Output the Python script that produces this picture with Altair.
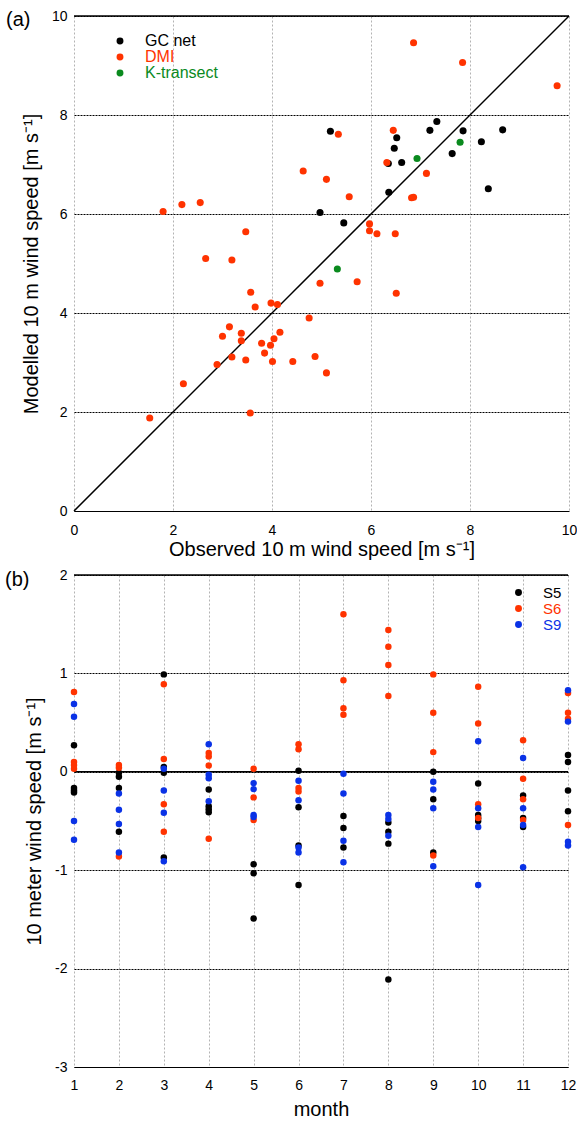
import altair as alt
import pandas as pd

FONT = "Liberation Sans"
BLACK, RED, GREEN, BLUE = "#000000", "#ff3300", "#0a8a1e", "#0a32e6"

# ---------------- panel (a) data ----------------
gc_obs = [5.18, 6.52, 6.47, 6.35, 6.62, 7.19, 7.33, 7.86, 7.64, 8.23, 8.66, 8.37, 6.36, 4.97, 5.45]
gc_mod = [7.67, 7.54, 7.33, 7.02, 7.04, 7.69, 7.87, 7.68, 7.22, 7.46, 7.70, 6.51, 6.44, 6.03, 5.82]

dmi_obs = [6.86, 7.85, 9.76, 5.34, 6.45, 6.32, 7.12, 5.10, 5.56, 6.82, 6.86, 5.97, 5.97, 6.12, 6.49,
           4.63, 1.80, 2.18, 2.55, 3.47, 2.66, 3.19, 3.57, 3.66, 3.98, 4.11, 4.75, 4.97, 3.14, 3.00,
           3.38, 3.38, 4.16, 4.04, 3.79, 3.97, 3.85, 3.19, 3.47, 4.01, 4.42, 4.87, 2.89, 2.21, 1.53,
           3.56, 5.72, 6.51, 5.10]
dmi_mod = [9.46, 9.06, 8.59, 7.61, 7.69, 7.04, 6.82, 6.70, 6.35, 6.33, 6.34, 5.80, 5.66, 5.60, 5.60,
           6.87, 6.05, 6.19, 6.23, 5.64, 5.10, 5.07, 4.42, 4.12, 4.20, 4.17, 3.90, 4.60, 3.72, 3.53,
           3.59, 3.44, 3.61, 3.48, 3.39, 3.35, 3.19, 3.11, 3.05, 3.02, 3.02, 3.12, 2.96, 2.57, 1.88,
           1.98, 4.63, 4.40, 2.79]

kt_obs = [6.93, 7.80, 5.32]
kt_mod = [7.12, 7.45, 4.89]

sources_a = ["GC net", "DMI", "K-transect"]
axis_ticks_a = [0, 2, 4, 6, 8, 10]

# ---------------- panel (b) data (bias per month) ----------------
months = list(range(1, 13))
s5_bias = [
    [0.27, -0.165, -0.19, -0.21],
    [-0.01, -0.05, -0.165, -0.61],
    [0.99, 0.05, -0.01, -0.87],
    [-0.18, -0.35, -0.38, -0.41],
    [-0.94, -1.03, -1.49],
    [0.01, -0.36, -0.75, -1.15],
    [-0.45, -0.57, -0.77],
    [-0.515, -0.61, -0.73, -2.11],
    [0.0, -0.28, -0.82],
    [-0.12, -0.44, -0.47, -0.50],
    [-0.24, -0.47, -0.56],
    [0.17, 0.10, -0.19, -0.40],
]
s6_bias = [
    [0.81, 0.10, 0.07, 0.03],
    [0.07, 0.04, -0.86],
    [0.89, 0.13, -0.33, -0.61],
    [0.19, 0.155, 0.064, -0.68],
    [0.03, -0.26, -0.49],
    [0.28, 0.23, -0.165, -0.20],
    [1.60, 0.93, 0.645, 0.58],
    [1.44, 1.27, 1.085, 0.77],
    [0.99, 0.60, 0.20, -0.85],
    [0.865, 0.49, -0.33, -0.47],
    [0.32, -0.07, -0.28, -0.49],
    [0.80, 0.60, 0.54, -0.54],
]
s9_bias = [
    [0.69, 0.56, -0.50, -0.69],
    [-0.22, -0.385, -0.53, -0.82],
    [0.03, -0.19, -0.415, -0.91],
    [0.28, -0.03, -0.065, -0.30],
    [-0.115, -0.176, -0.44, -0.46],
    [-0.09, -0.29, -0.77, -0.82],
    [-0.02, -0.22, -0.70, -0.92],
    [-0.44, -0.48, -0.65],
    [-0.10, -0.18, -0.37, -0.96],
    [0.31, -0.37, -0.56, -1.15],
    [0.14, -0.37, -0.54, -0.97],
    [0.83, 0.51, -0.71, -0.75],
]
stations_b = ["S5", "S6", "S9"]
axis_ticks_b = [-3, -2, -1, 0, 1, 2]

# ---------------- build tables ----------------
rows_a = []
for name, xs, ys in [("GC net", gc_obs, gc_mod), ("DMI", dmi_obs, dmi_mod), ("K-transect", kt_obs, kt_mod)]:
    for xv, yv in zip(xs, ys):
        rows_a.append({"src": name, "obs": xv, "mod": yv})
dfa = pd.DataFrame(rows_a)

rows_b = []
for name, series in [("S5", s5_bias), ("S6", s6_bias), ("S9", s9_bias)]:
    for m, vals in zip(months, series):
        for v in vals:
            rows_b.append({"st": name, "month": m, "bias": v})
dfb = pd.DataFrame(rows_b)

def legend(x, y, size, colexpr):
    return alt.Legend(
        title=None, orient="none", legendX=x, legendY=y, padding=0,
        labelFontSize=size, labelFont=FONT, labelOffset=17, rowPadding=0,
        symbolSize=48, symbolType="circle", symbolStrokeWidth=0,
        labelColor={"expr": colexpr},
    )

def axis(values, title, grid_color, dash, label_pad, title_pad, vertical):
    kw = dict(values=values, title=title, labelExpr="toString(datum.value)",
              grid=True, gridColor=grid_color, labelFlush=False,
              gridDash=dash, gridWidth=0.8 if not vertical else 1, ticks=False,
              labelPadding=label_pad, titlePadding=title_pad,
              labelFont=FONT, titleFont=FONT, labelFontSize=14, titleFontSize=20,
              titleFontWeight="normal", labelColor="black", titleColor="black")
    if vertical:
        kw["domain"] = False
    else:
        kw["domainColor"] = "black"
        kw["domainWidth"] = 1.2
    return alt.Axis(**kw)

# ---------------- panel (a) ----------------
xa = alt.X("obs:Q", scale=alt.Scale(domain=[0, 10], nice=False),
           axis=axis(axis_ticks_a, "Observed 10 m wind speed [m s\u207b\u00b9]", "#a0a0a0", [2, 2], 12, 2, False))
ya = alt.Y("mod:Q", scale=alt.Scale(domain=[0, 10], nice=False),
           axis=axis(axis_ticks_a, "Modelled 10 m wind speed [m s\u207b\u00b9]", "black", [2, 1], 7, 10, True))

pts_a = alt.Chart(dfa).mark_circle(size=50, opacity=1).encode(
    x=xa, y=ya,
    color=alt.Color("src:N", sort=sources_a,
                    scale=alt.Scale(domain=sources_a, range=[BLACK, RED, GREEN]),
                    legend=legend(38, 17, 16,
                                  "datum.label == 'DMI' ? '#ff3300' : (datum.label == 'K-transect' ? '#0a8a1e' : '#000000')")),
)
diag = alt.Chart(pd.DataFrame({"obs": [0, 10], "mod": [0, 10]})).mark_line(
    color="black", strokeWidth=1.5).encode(x="obs:Q", y="mod:Q")
top_a = alt.Chart(pd.DataFrame({"mod": [10]})).mark_rule(color="black", strokeWidth=1.5).encode(y="mod:Q")
lab_a = alt.Chart(pd.DataFrame({"t": ["(a)"]})).mark_text(
    align="left", baseline="middle", fontSize=20, font=FONT, color="black").encode(
    text="t:N", x=alt.value(-68), y=alt.value(4))

panel_a = alt.layer(top_a, diag, pts_a, lab_a).properties(width=495, height=495)

# ---------------- panel (b) ----------------
xb = alt.X("month:Q", scale=alt.Scale(domain=[1, 12], nice=False),
           axis=axis(months, "month", "#a0a0a0", [2, 2], 11, 7, False))
yb = alt.Y("bias:Q", scale=alt.Scale(domain=[-3, 2], nice=False),
           axis=axis(axis_ticks_b, "10 meter wind speed [m s\u207b\u00b9]", "black", [2, 1], 7, 10, True))

pts_b = alt.Chart(dfb).mark_circle(size=42, opacity=1).encode(
    x=xb, y=yb,
    color=alt.Color("st:N", sort=stations_b,
                    scale=alt.Scale(domain=stations_b, range=[BLACK, RED, BLUE]),
                    legend=legend(437, 10, 15,
                                  "datum.label == 'S6' ? '#ff3300' : (datum.label == 'S9' ? '#0a32e6' : '#000000')")),
)
rules_b = alt.Chart(pd.DataFrame({"bias": [2, 0]})).mark_rule(color="black", strokeWidth=1.5).encode(y="bias:Q")
lab_b = alt.Chart(pd.DataFrame({"t": ["(b)"]})).mark_text(
    align="left", baseline="middle", fontSize=20, font=FONT, color="black").encode(
    text="t:N", x=alt.value(-69), y=alt.value(5))

panel_b = alt.layer(rules_b, pts_b, lab_b).properties(width=494, height=492)

chart = alt.vconcat(panel_a, panel_b, spacing=9).resolve_scale(
    color="independent", x="independent", y="independent"
).properties(
    padding={"left": 5, "top": 9, "right": 0, "bottom": 0},
    background="white",
).configure_view(stroke=None)

chart.save("out.html", embed_options={"renderer": "svg", "actions": False})
